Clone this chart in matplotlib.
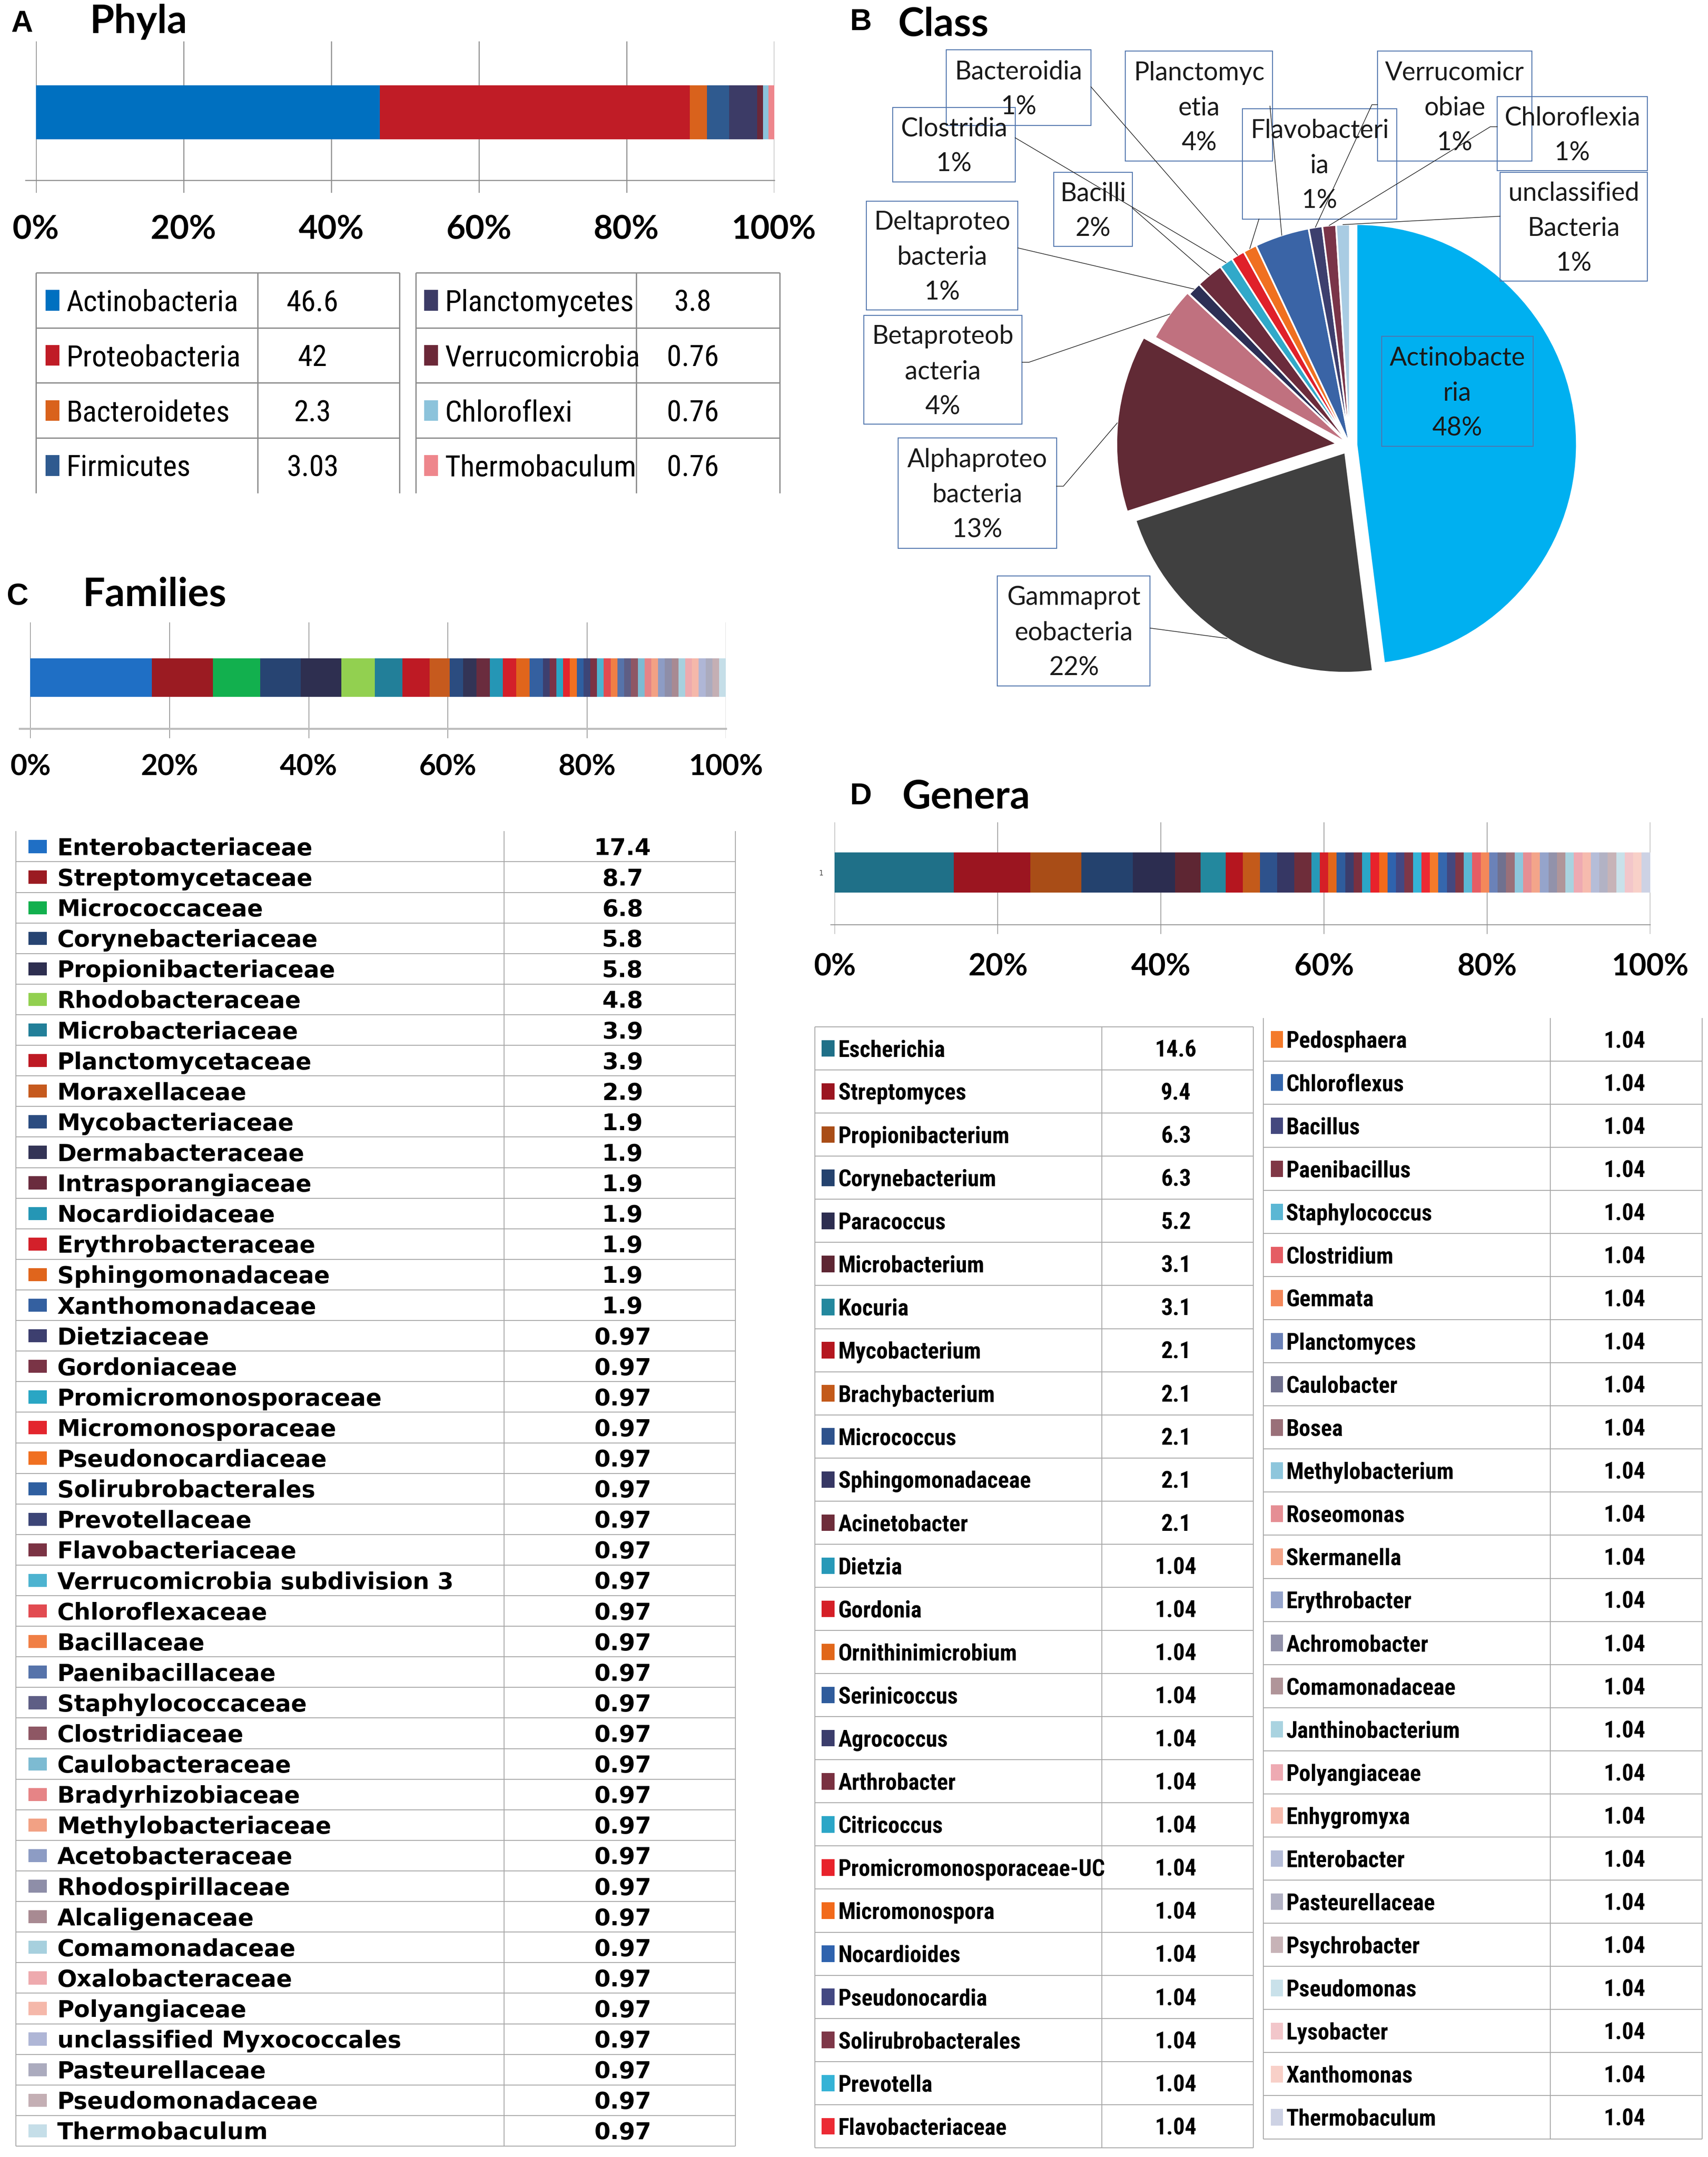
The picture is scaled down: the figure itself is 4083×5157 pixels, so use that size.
import matplotlib
matplotlib.use("Agg")
import matplotlib.pyplot as plt
import numpy as np
from matplotlib import font_manager as fm
from matplotlib.patches import Rectangle

# ---------------- data ----------------
phyla = ["Actinobacteria", "Proteobacteria", "Bacteroidetes", "Firmicutes",
         "Planctomycetes", "Verrucomicrobia", "Chloroflexi", "Thermobaculum"]
phyla_vals = [46.6, 42, 2.3, 3.03, 3.8, 0.76, 0.76, 0.76]
phyla_colors = ["#0070C0", "#C01C26", "#D9621C", "#2F5A8F",
                "#3C3B66", "#6B2838", "#8CC3DB", "#EE868C"]

classes = ["Actinobacteria", "Gammaproteobacteria", "Alphaproteobacteria",
           "Betaproteobacteria", "Deltaproteobacteria", "Bacilli", "Clostridia",
           "Bacteroidia", "Flavobacteriia", "Planctomycetia", "Verrucomicrobiae",
           "Chloroflexia", "unclassified Bacteria"]
class_vals = [48, 22, 13, 4, 1, 2, 1, 1, 1, 4, 1, 1, 1]
class_colors = ["#00B0F0", "#404040", "#612A35", "#C0717F", "#2C2F55", "#6B2C3C",
                "#31A9C9", "#E0202A", "#F07020", "#3A64A6", "#3D3F6E", "#7A3448",
                "#A9CCE3"]

families = ["Enterobacteriaceae", "Streptomycetaceae", "Micrococcaceae",
            "Corynebacteriaceae", "Propionibacteriaceae", "Rhodobacteraceae",
            "Microbacteriaceae", "Planctomycetaceae", "Moraxellaceae",
            "Mycobacteriaceae", "Dermabacteraceae", "Intrasporangiaceae",
            "Nocardioidaceae", "Erythrobacteraceae", "Sphingomonadaceae",
            "Xanthomonadaceae", "Dietziaceae", "Gordoniaceae",
            "Promicromonosporaceae", "Micromonosporaceae", "Pseudonocardiaceae",
            "Solirubrobacterales", "Prevotellaceae", "Flavobacteriaceae",
            "Verrucomicrobia subdivision 3", "Chloroflexaceae", "Bacillaceae",
            "Paenibacillaceae", "Staphylococcaceae", "Clostridiaceae",
            "Caulobacteraceae", "Bradyrhizobiaceae", "Methylobacteriaceae",
            "Acetobacteraceae", "Rhodospirillaceae", "Alcaligenaceae",
            "Comamonadaceae", "Oxalobacteraceae", "Polyangiaceae",
            "unclassified Myxococcales", "Pasteurellaceae", "Pseudomonadaceae",
            "Thermobaculum"]
family_vals = [17.4, 8.7, 6.8, 5.8, 5.8, 4.8, 3.9, 3.9, 2.9,
               1.9, 1.9, 1.9, 1.9, 1.9, 1.9, 1.9] + [0.97] * 27
family_colors = ["#1F6FC5", "#9B1B22", "#12B04E", "#274472", "#2E2F50", "#92D050",
                 "#227F99", "#BE1A24", "#C65A1E", "#2B4C80", "#333456", "#6A2C3E",
                 "#2596B5", "#D3202A", "#E0651C", "#3460A0", "#3D3F6F", "#7A3446",
                 "#2AA6C4", "#E3262E", "#F07021", "#2F5FA0", "#3C4577", "#7B3344",
                 "#4DB3D0", "#E24B51", "#F07F45", "#5673AA", "#5E5E85", "#8E5764",
                 "#7DBBD2", "#E68486", "#F2A184", "#8D9CC4", "#8E8EA8", "#A88A92",
                 "#A7D0DE", "#EEAAAE", "#F5B8AA", "#AFB6D6", "#ABABBE", "#C4AFB4",
                 "#C5DEE8"]

genera = ["Escherichia", "Streptomyces", "Propionibacterium", "Corynebacterium",
          "Paracoccus", "Microbacterium", "Kocuria", "Mycobacterium",
          "Brachybacterium", "Micrococcus", "Sphingomonadaceae", "Acinetobacter",
          "Dietzia", "Gordonia", "Ornithinimicrobium", "Serinicoccus", "Agrococcus",
          "Arthrobacter", "Citricoccus", "Promicromonosporaceae-UC", "Micromonospora",
          "Nocardioides", "Pseudonocardia", "Solirubrobacterales", "Prevotella",
          "Flavobacteriaceae",
          "Pedosphaera", "Chloroflexus", "Bacillus", "Paenibacillus", "Staphylococcus",
          "Clostridium", "Gemmata", "Planctomyces", "Caulobacter", "Bosea",
          "Methylobacterium", "Roseomonas", "Skermanella", "Erythrobacter",
          "Achromobacter", "Comamonadaceae", "Janthinobacterium", "Polyangiaceae",
          "Enhygromyxa", "Enterobacter", "Pasteurellaceae", "Psychrobacter",
          "Pseudomonas", "Lysobacter", "Xanthomonas", "Thermobaculum"]
genus_vals = [14.6, 9.4, 6.3, 6.3, 5.2, 3.1, 3.1, 2.1, 2.1, 2.1, 2.1, 2.1] + [1.04] * 40
genus_colors = ["#1F7088", "#9B1520", "#A94D17", "#24426E", "#2C2D50", "#5E2633",
                "#23889E", "#B5161F", "#C35A1A", "#2E528C", "#363764", "#6E2D3A",
                "#2799B8", "#D51F27", "#E1671A", "#2F5C9C", "#3B3D6C", "#793040",
                "#2BA6C7", "#E8222B", "#F26A1B", "#2F63AE", "#434882", "#7E3748",
                "#35B3D6", "#EC2A34",
                "#F47A2A", "#3567AD", "#44487E", "#803846", "#5BB7D4", "#E55D64",
                "#F4885A", "#6B82B8", "#70718F", "#9A7079", "#8DC6DC", "#E58E94",
                "#F3A58A", "#95A4CB", "#9292AA", "#B09599", "#A9D3E0", "#EEAAB2",
                "#F6BBAE", "#B5BDD8", "#B2B2C4", "#C7B3B7", "#C9E1EA", "#F2C6CA",
                "#F8D0C8", "#CDD2E4"]

ticks = [0, 20, 40, 60, 80, 100]
tick_labels = ["0%", "20%", "40%", "60%", "80%", "100%"]

# ---------------- fonts ----------------
TITLE = ["Lato", "DejaVu Sans"]
WIDE = ["DejaVu Sans"]
LETTER = ["Liberation Sans", "DejaVu Sans"]


def pick_narrow():
    ents = fm.fontManager.ttflist
    names = {e.name for e in ents}
    for n, k in [("Liberation Sans Narrow", 1.0), ("Arial Narrow", 1.0),
                 ("Roboto Condensed", 0.97), ("Open Sans Condensed", 0.97),
                 ("Noto Sans Condensed", 0.95), ("DejaVu Sans Condensed", 0.85)]:
        if n in names:
            return [n], "normal", k
    for fam, k in [("Noto Sans", 0.95), ("Open Sans", 0.95), ("Roboto", 0.97),
                   ("DejaVu Sans", 0.85)]:
        if any(e.name == fam and str(e.stretch) in ("condensed", "semi-condensed")
               for e in ents):
            return [fam], "condensed", k
    return ["Lato"], "normal", 0.9


NARROW, NSTRETCH, NK = pick_narrow()

# ---------------- layout helpers ----------------
W, H = 1240, 1566          # layout units of the reference
PT = 4083 / W * 0.72       # one layout unit in points

fig = plt.figure(figsize=(40.83, 51.57), dpi=100)


def box(x0, y0, x1, y1):
    return [x0 / W, 1 - y1 / H, (x1 - x0) / W, (y1 - y0) / H]


def stacked_bar(x0, x1, y0, y1, vals, colors, bar_y, axis_y, axis_x, label_y, fs,
                grid_c="#8C8C8C", grid_lw=1.6, axis_c="#8C8C8C", axis_lw=1.6):
    ax = fig.add_axes(box(x0, y0, x1, y1))
    pct = np.array(vals, float) / np.sum(vals) * 100
    left = np.concatenate([[0], np.cumsum(pct)[:-1]])
    ax.barh((bar_y[0] + bar_y[1]) / 2, pct, left=left, height=bar_y[1] - bar_y[0],
            color=colors, linewidth=0, zorder=2)
    ax.set_xlim(0, 100)
    ax.set_ylim(y1, y0)
    ax.set_axisbelow(True)
    ax.grid(axis="x", color=grid_c, linewidth=grid_lw)
    ax.plot([axis_x, 100], [axis_y, axis_y], color=axis_c, lw=axis_lw,
            clip_on=False, zorder=1)
    ax.set_xticks(ticks)
    ax.set_xticklabels(tick_labels, family=TITLE, fontweight="bold", fontsize=fs)
    for t in ax.get_xticklabels():
        t.set_va("center")
    ax.tick_params(axis="x", length=0, pad=(label_y - y1) * PT)
    ax.set_yticks([])
    for s in ax.spines.values():
        s.set_visible(False)
    return ax


# ---------------- A: phyla bar ----------------
stacked_bar(26, 562, 30, 140, phyla_vals, phyla_colors, (62, 101), 131, -1.4, 167, 57,
            grid_lw=1.8, axis_lw=1.8)

# ---------------- C: families bar ----------------
stacked_bar(22, 527, 452, 536, family_vals, family_colors, (478, 506), 529, -1.5, 557, 50,
            grid_c="#6E6E6E", grid_lw=1.0, axis_c="#BDBDBD", axis_lw=3.5)

# ---------------- D: genera bar ----------------
axd = stacked_bar(606, 1198, 597, 678, genus_vals, genus_colors, (619, 648), 671.5, -0.5,
                  702, 52, grid_c="#8C8C8C", grid_lw=1.2, axis_lw=1.4)
axd.set_yticks([633.5])
axd.set_yticklabels(["1"], fontsize=12, color="#444444")
axd.tick_params(axis="y", length=0, pad=20)

# ---------------- B: pie ----------------
cx, cy, R = 980, 323, 160
pax = fig.add_axes(box(cx - 200, cy - 200, cx + 200, cy + 200))
explode = [0.03, 0.04, 0.06, 0.01, 0, 0, 0, 0, 0, 0, 0, 0, 0]
pax.pie(class_vals, colors=class_colors, startangle=90, counterclock=False,
        explode=explode, radius=1,
        wedgeprops=dict(edgecolor="white", linewidth=3))
pax.set_xlim(-1.25, 1.25)
pax.set_ylim(-1.25, 1.25)
pax.set_aspect("equal")
pax.axis("off")

# ---------------- overlay: text, tables, boxes ----------------
ov = fig.add_axes([0, 0, 1, 1])
ov.set_xlim(0, W)
ov.set_ylim(H, 0)
ov.axis("off")
ov.patch.set_alpha(0)


def cap(fs):
    return 0.3037 * fs


# panel titles
for x, y, s in [(8, 23, "A"), (617, 22, "B"), (5, 439, "C"), (617, 584, "D")]:
    ov.text(x, y, s, family=LETTER, fontweight="bold", fontsize=52, va="baseline")
for x, y, s in [(65, 24, "Phyla"), (652, 26, "Class"), (60, 440, "Families"),
                (655, 587, "Genera")]:
    ov.text(x, y, s, family=TITLE, fontweight="bold", fontsize=68, va="baseline")


def table(names, vals, colors, xl, xd, xr, y_top, pitch, sq, sq_h, tx, vx, fs, fam,
          weight, line_c, lw, top_line=True, bottom_line=True, stretch="normal"):
    n = len(names)
    for i in range(n):
        yc = y_top + (i + 0.5) * pitch
        ov.add_patch(Rectangle((sq[0], yc - sq_h / 2), sq[1] - sq[0], sq_h,
                               facecolor=colors[i], linewidth=0))
        ov.text(tx, yc + cap(fs) / 2, names[i], family=fam, fontweight=weight,
                fontstretch=stretch, fontsize=fs, va="baseline", ha="left")
        ov.text(vx, yc + cap(fs) / 2, f"{vals[i]:g}", family=fam, fontweight=weight,
                fontstretch=stretch, fontsize=fs, va="baseline", ha="center")
    ys = y_top + pitch * np.arange(0 if top_line else 1, n + (1 if bottom_line else 0))
    ov.hlines(ys, xl, xr, colors=line_c, lw=lw)
    ov.vlines([xl, xd, xr], y_top, y_top + n * pitch, colors=line_c, lw=lw)


# A tables
table(phyla[:4], phyla_vals[:4], phyla_colors[:4], 26, 187, 290, 198, 40,
      (33, 43), 15, 48, 227, 53 * NK, NARROW, "normal", "#8C8C8C", 2.2,
      bottom_line=False, stretch=NSTRETCH)
table(phyla[4:], phyla_vals[4:], phyla_colors[4:], 302, 462, 566, 198, 40,
      (308, 318), 15, 323, 503, 53 * NK, NARROW, "normal", "#8C8C8C", 2.2,
      bottom_line=False, stretch=NSTRETCH)

# C table
table(families, family_vals, family_colors, 11.4, 366, 534, 603.5, 22.2,
      (20.5, 34), 9.5, 41.5, 452, 40, WIDE, "bold", "#A6A6A6", 1.5, top_line=False)

# D tables
table(genera[:26], genus_vals[:26], genus_colors[:26], 591.6, 800, 910, 745.5, 31.3,
      (596.5, 606), 12, 608.5, 853.7, 41 * NK, NARROW, "bold", "#A6A6A6", 1.5,
      stretch=NSTRETCH)
table(genera[26:], genus_vals[26:], genus_colors[26:], 917.3, 1125.4, 1235.7, 739, 31.3,
      (922.5, 931.3), 12, 933.7, 1179.5, 41 * NK, NARROW, "bold", "#A6A6A6", 1.5,
      top_line=False, stretch=NSTRETCH)

# pie label boxes: (x0, y0, x1, y1), name lines, leader start points
pie_boxes = [
    ((1003, 244, 1113, 324), ["Actinobacte", "ria"], None),
    ((724, 418, 835, 498), ["Gammaprot", "eobacteria"], [(835, 456)]),
    ((652, 318, 767, 398), ["Alphaproteo", "bacteria"], [(767, 353), (772, 353)]),
    ((627, 229, 742, 308), ["Betaproteob", "acteria"], [(742, 263), (747, 263)]),
    ((629, 146, 739, 225), ["Deltaproteo", "bacteria"], [(739, 180)]),
    ((765, 125, 822, 179), ["Bacilli"], [(822, 151)]),
    ((648, 78, 737, 132), ["Clostridia"], [(737, 100)]),
    ((687, 36, 792, 91), ["Bacteroidia"], [(792, 63)]),
    ((902, 79, 1014, 159), ["Flavobacteri", "ia"], [(914, 159)]),
    ((817, 37, 924, 117), ["Planctomyc", "etia"], [(922, 77)]),
    ((1000, 37, 1112, 117), ["Verrucomicr", "obiae"], [(1000, 76), (996, 76)]),
    ((1087, 70, 1196, 124), ["Chloroflexia"], [(1087, 92), (1082, 92)]),
    ((1089, 125, 1196, 204), ["unclassified", "Bacteria"], [(1089, 157)]),
]

cum = np.cumsum(class_vals)
tot = cum[-1]
pfs = 44
for i, (bx, lines, lead) in enumerate(pie_boxes):
    x0, y0, x1, y1 = bx
    ov.add_patch(Rectangle((x0, y0), x1 - x0, y1 - y0, facecolor="none",
                           edgecolor="#4F74AD", lw=1.6))
    txt = lines + [f"{class_vals[i]:.0f}%"]
    yc = (y0 + y1) / 2
    for k, s in enumerate(txt):
        yy = yc + (k - (len(txt) - 1) / 2) * 25.5
        ov.text((x0 + x1) / 2, yy + cap(pfs) / 2, s, family=TITLE, fontsize=pfs,
                ha="center", va="baseline", color="#1A1A1A")
    if lead:
        th = np.deg2rad(360 * (cum[i] - class_vals[i] / 2) / tot)
        off = 1 + explode[i]
        ex = cx + R * off * np.sin(th)
        ey = cy - R * off * np.cos(th)
        xs = [p[0] for p in lead] + [ex]
        ys = [p[1] for p in lead] + [ey]
        ov.plot(xs, ys, color="#1A1A1A", lw=1.1)

fig.savefig("out.png", dpi=100, facecolor="white")
